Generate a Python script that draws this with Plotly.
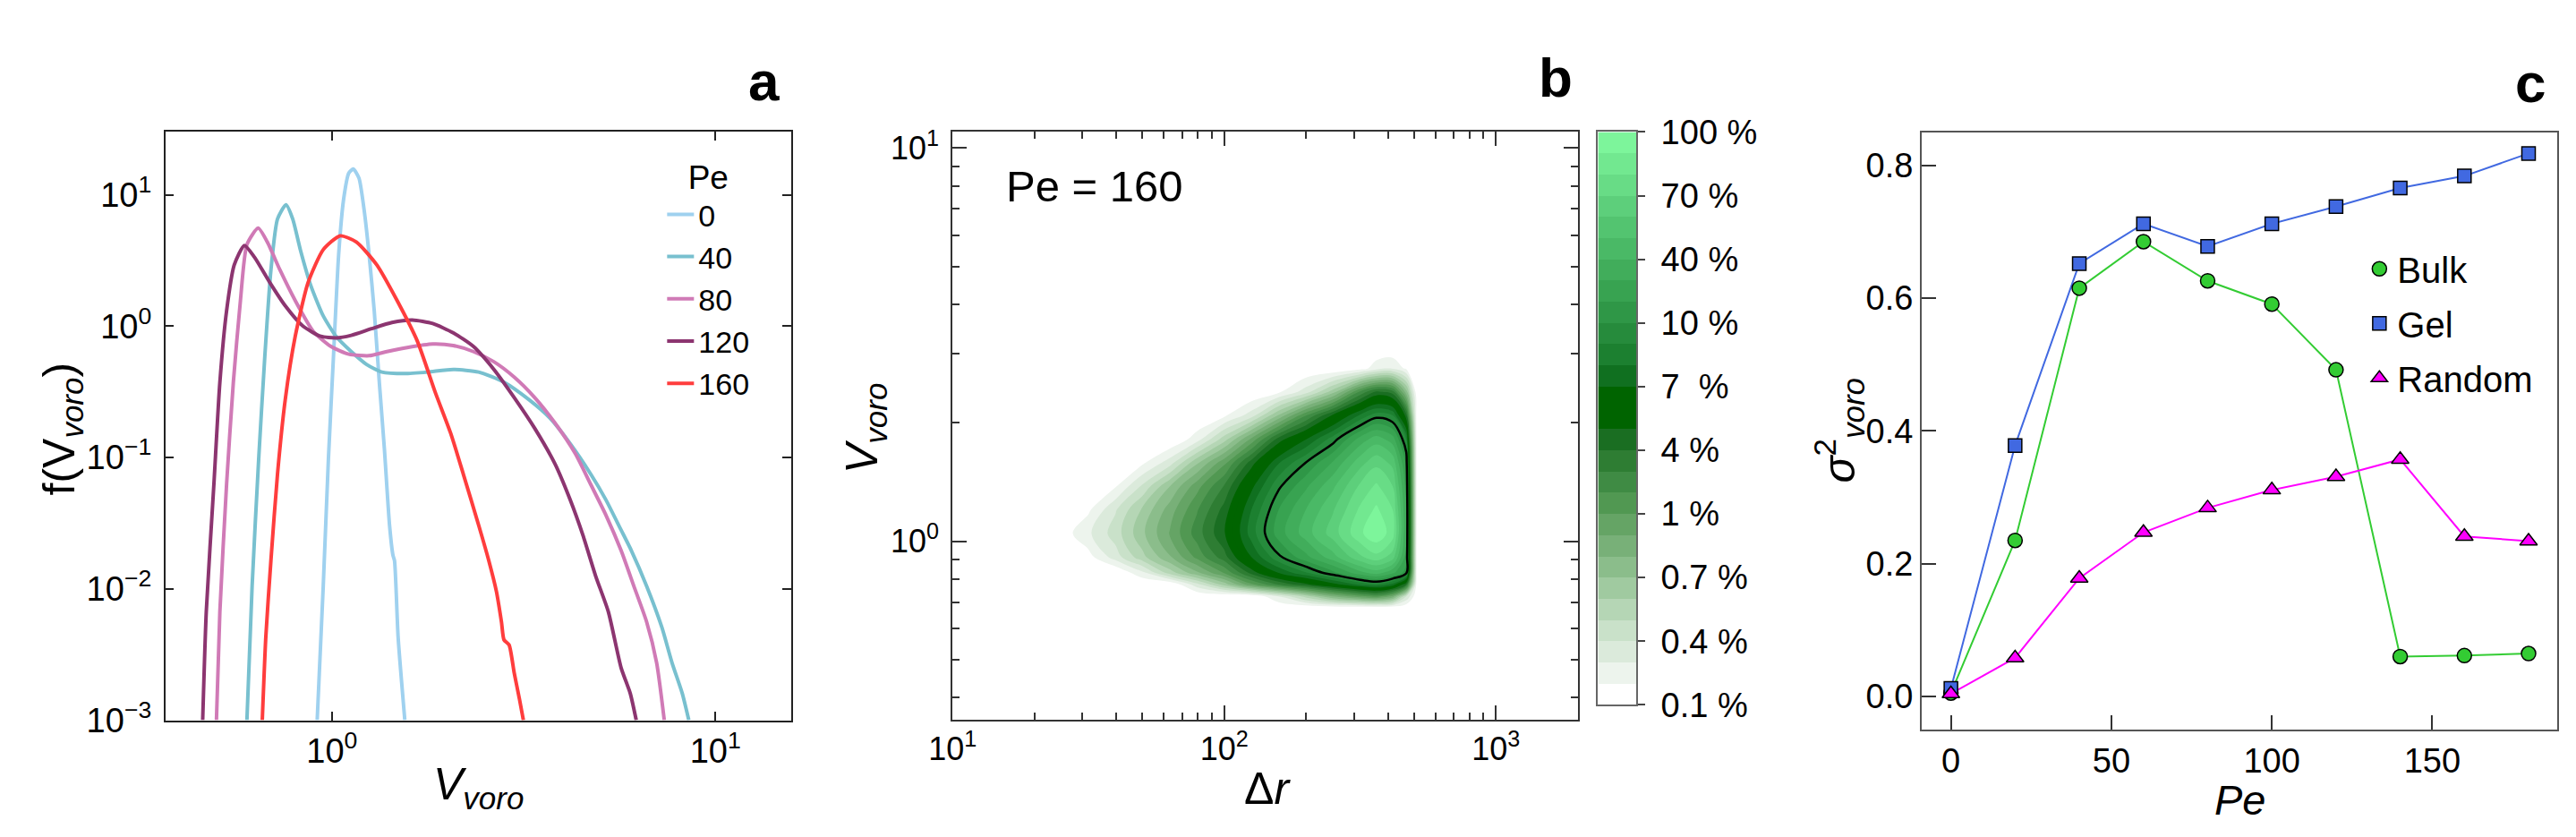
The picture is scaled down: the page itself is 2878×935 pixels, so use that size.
import plotly.graph_objects as go

W, H = 2878, 935
FONT = "Liberation Sans, Arial, sans-serif"

# ---- panel a: f(V_voro) for several Pe ----
pe_labels = ["0", "40", "80", "120", "160"]
pe_colors = ["#9fd1ef", "#78c0cf", "#d07ab6", "#8c3570", "#ff3d3d"]

pe0_v = [0.915, 0.949, 0.979, 1.009, 1.041, 1.073, 1.106, 1.137, 1.176, 1.212, 1.250, 1.289,
         1.329, 1.370, 1.413, 1.443, 1.456, 1.488, 1.549]
pe0_f = [0.001, 0.0105, 0.098, 0.585, 3.5, 9.35, 14.6, 15.7, 13.4, 7.82, 3.5, 1.31,
         0.374, 0.117, 0.0306, 0.0179, 0.0164, 0.00428, 0.001]

pe40_v = [0.600, 0.619, 0.644, 0.668, 0.693, 0.721, 0.759, 0.790, 0.827, 0.880, 0.949, 1.025,
          1.123, 1.231, 1.349, 1.549, 1.777, 2.071, 2.413, 2.811, 3.275, 3.70, 4.18, 4.73,
          5.18, 5.68, 6.04, 6.62, 7.25, 7.71, 8.20, 8.53]
pe40_f = [0.001, 0.0105, 0.098, 0.585, 2.67, 6.54, 8.4, 6.54, 3.82, 2.05, 1.196, 0.836,
          0.64, 0.511, 0.447, 0.435, 0.447, 0.468, 0.447, 0.374, 0.2735, 0.2, 0.128, 0.0748,
          0.0478, 0.028, 0.01955, 0.0105, 0.00512, 0.00274, 0.0016, 0.001]

pe80_v = [0.4996, 0.510, 0.531, 0.553, 0.577, 0.600, 0.642, 0.678, 0.732, 0.802, 0.893, 0.994,
          1.106, 1.250, 1.391, 1.572, 1.832, 2.071, 2.339, 2.645, 2.988, 3.379, 3.817, 4.314,
          4.73, 5.18, 5.68, 6.13, 6.62, 7.03, 7.36]
pe80_f = [0.001, 0.00669, 0.0625, 0.374, 1.564, 4.18, 5.57, 4.37, 2.67, 1.564, 0.915, 0.70,
          0.6115, 0.5953, 0.64, 0.687, 0.731, 0.712, 0.64, 0.535, 0.409, 0.286, 0.183, 0.107,
          0.0625, 0.0366, 0.01955, 0.0105, 0.0056, 0.00274, 0.001]

pe120_v = [0.460, 0.470, 0.492, 0.510, 0.531, 0.556, 0.591, 0.628, 0.689, 0.755, 0.840, 0.935,
           1.025, 1.123, 1.269, 1.434, 1.621, 1.832, 2.071, 2.339, 2.645, 2.988, 3.379, 3.817,
           4.18, 4.515, 4.875, 5.26, 5.68, 6.0, 6.22]
pe120_f = [0.001, 0.00669, 0.0625, 0.374, 1.308, 2.925, 4.11, 3.345, 2.138, 1.43, 1.0, 0.836,
           0.814, 0.851, 0.956, 1.065, 1.113, 1.046, 0.89, 0.70, 0.468, 0.286, 0.167, 0.0894,
           0.0478, 0.0256, 0.0125, 0.00669, 0.0025, 0.0016, 0.001]

pe160_v = [0.658, 0.672, 0.693, 0.721, 0.755, 0.802, 0.866, 0.949, 1.050, 1.158, 1.309, 1.479,
           1.671, 1.860, 2.040, 2.201, 2.413, 2.565, 2.685, 2.768, 2.81, 2.898, 2.988, 3.082, 3.158]
pe160_f = [0.001, 0.00428, 0.0164, 0.0748, 0.2735, 0.836, 2.138, 3.82, 4.87, 4.37, 2.925, 1.564,
           0.765, 0.313, 0.153, 0.0748, 0.0306, 0.0164, 0.00957, 0.0056, 0.00409, 0.00374,
           0.00229, 0.00146, 0.001]

# ---- panel b: joint distribution (level index) ----
dr_vals = [25.1, 31.6, 39.8, 50.1, 63.1, 79.4, 100, 125.9, 158.5, 199.5, 251.2, 316.2,
           363.1, 416.9, 467.7, 512.9, 631.0]
vv_vals = [0.603, 0.676, 0.724, 0.776, 0.832, 0.912, 1.047, 1.202, 1.380, 1.585, 1.820,
           2.089, 2.399, 2.754, 3.162]
level_grid = [
    [0, 0, 0, 0, 0, 0, 0, 0, 0, 0, 0, 0, 0, 0, 0, 0, 0],
    [0, 0, 0, 0, 0, 0, 0, 0, 0, 0, 0, 0, 0, 0, 0, 0, 0],
    [0, 0, 0, 0, 0, 0, 0, 0, 2.0, 4.4, 7.1, 8.7, 9.4, 7.7, 3.0, 0, 0],
    [0, 0, 0, 0, 0, 2.6, 5.4, 8.7, 11.0, 12.7, 14.5, 16.2, 16.9, 15.7, 12.0, 0, 0],
    [0, 0, 0, 1.8, 4.5, 6.8, 9.1, 12.4, 15.1, 16.9, 18.7, 20.7, 21.5, 20.3, 18.5, 0, 0],
    [0, 0.6, 2.5, 4.7, 6.9, 9.3, 11.6, 15.0, 17.8, 19.7, 21.6, 23.8, 24.7, 23.5, 19.5, 0, 0],
    [0.4, 1.8, 3.5, 5.8, 8.1, 10.5, 12.9, 16.5, 19.5, 21.5, 23.5, 25.8, 26.8, 25.5, 20.0, 0, 0],
    [0, 0.8, 2.9, 5.2, 7.5, 9.9, 12.4, 16.0, 19.0, 21.0, 22.9, 25.2, 26.2, 25.0, 20.0, 0, 0],
    [0, 0, 0.9, 3.2, 6.0, 8.6, 11.1, 14.7, 17.8, 19.8, 21.8, 24.2, 25.2, 24.0, 19.6, 0, 0],
    [0, 0, 0, 0.8, 2.5, 5.8, 8.7, 12.5, 15.9, 18.0, 20.1, 22.6, 23.7, 22.7, 18.8, 0, 0],
    [0, 0, 0, 0, 0, 1.5, 4.5, 8.2, 12.4, 14.9, 17.5, 20.4, 21.5, 20.5, 17.0, 0, 0],
    [0, 0, 0, 0, 0, 0, 0.8, 2.5, 6.1, 9.9, 13.2, 16.2, 17.6, 17.0, 12.5, 0, 0],
    [0, 0, 0, 0, 0, 0, 0, 0, 0.8, 2.5, 5.5, 10.2, 12.2, 11.5, 6.5, 0, 0],
    [0, 0, 0, 0, 0, 0, 0, 0, 0, 0, 0, 0.5, 1.5, 1.8, 0.8, 0, 0],
    [0, 0, 0, 0, 0, 0, 0, 0, 0, 0, 0, 0, 0, 0, 0, 0, 0],
]
band_colors = ["#ffffff", "#edf4ed", "#dbeadb", "#c9e1c9", "#b5d6b5", "#a0caa0", "#8bbd8b",
               "#78b078", "#65a465", "#519852", "#3f8b44", "#2e7d33", "#1a6e22", "#006400",
               "#006400", "#107020", "#1c8030", "#268b3c", "#2f9747", "#38a351", "#41ad5b",
               "#4ab966", "#53c470", "#5dcf7b", "#68dc86", "#72e890", "#7df59b"]
cbar_labels = ["0.1 %", "0.4 %", "0.7 %", "1 %", "4 %", "7\u00a0 %", "10 %", "40 %", "70 %", "100 %"]
black_level = 18

# ---- panel c: variance vs Pe ----
pe_c = [0, 20, 40, 60, 80, 100, 120, 140, 160, 180]
bulk = [0.005, 0.235, 0.615, 0.685, 0.626, 0.591, 0.492, 0.060, 0.0615, 0.0646]
gel = [0.012, 0.378, 0.652, 0.712, 0.678, 0.712, 0.738, 0.766, 0.784, 0.818]
rand = [0.004, 0.058, 0.178, 0.247, 0.284, 0.311, 0.331, 0.357, 0.241, 0.234]


def px(x):
    return x / W


def py(y):
    return 1 - y / H


fig = go.Figure()

# panel a curves
for lab, col, v, f in zip(pe_labels, pe_colors,
                          [pe0_v, pe40_v, pe80_v, pe120_v, pe160_v],
                          [pe0_f, pe40_f, pe80_f, pe120_f, pe160_f]):
    fig.add_trace(go.Scatter(x=v, y=f, mode="lines", name=lab, legend="legend",
                             line=dict(color=col, width=4, shape="spline", smoothing=0.6),
                             xaxis="x", yaxis="y"))

# panel b contour
cscale = [[k / (len(band_colors) - 1), c] for k, c in enumerate(band_colors)]
fig.add_trace(go.Contour(x=dr_vals, y=vv_vals, z=level_grid, xaxis="x2", yaxis="y2",
                         colorscale=cscale, showscale=False, showlegend=False,
                         line=dict(width=0),
                         contours=dict(start=1, end=26, size=1, coloring="fill"),
                         hoverinfo="skip"))
fig.add_trace(go.Contour(x=dr_vals, y=vv_vals, z=level_grid, xaxis="x2", yaxis="y2",
                         showscale=False, showlegend=False,
                         line=dict(color="black", width=2.5),
                         contours=dict(start=black_level, end=black_level, size=1, coloring="none"),
                         hoverinfo="skip"))

# colour bar drawn as a one-column heatmap
fig.add_trace(go.Heatmap(z=[[k] for k in range(len(band_colors))], x=[0],
                         y=list(range(len(band_colors))), colorscale=cscale, zmin=0,
                         zmax=len(band_colors) - 1, showscale=False, showlegend=False,
                         xaxis="x4", yaxis="y4", hoverinfo="skip"))

# panel c
series = [("Bulk", bulk, "#33cc33", "circle", 16),
          ("Gel", gel, "#4169e1", "square", 15),
          ("Random", rand, "#ff00ff", "triangle-up", 17)]
for name, vals, col, sym, size in series:
    fig.add_trace(go.Scatter(x=pe_c, y=vals, mode="lines", line=dict(color=col, width=2),
                             showlegend=False, xaxis="x3", yaxis="y3"))
for name, vals, col, sym, size in series:
    fig.add_trace(go.Scatter(x=pe_c, y=vals, mode="markers", name=name, legend="legend2",
                             legendgroup=name,
                             marker=dict(color=col, symbol=sym, size=size,
                                         line=dict(color="black", width=1.5)),
                             xaxis="x3", yaxis="y3"))

tick_font = dict(family=FONT, size=38, color="black")

# axes
fig.update_layout(
    xaxis=dict(domain=[px(151), px(857)], anchor="y", type="log", range=[-0.435, 1.198],
               tickvals=[1, 10], ticktext=["10<sup>0</sup>", "10<sup>1</sup>"],
               showline=True, mirror="ticks", linecolor="#222", linewidth=1.5,
               ticks="inside", ticklen=10, tickwidth=1.5, tickcolor="#222",
               showgrid=False, zeroline=False, tickfont=tick_font),
    yaxis=dict(domain=[py(812), py(124)], anchor="x", type="log", range=[-3, 1.478],
               tickvals=[0.001, 0.01, 0.1, 1, 10],
               ticktext=["10<sup>\u22123</sup>", "10<sup>\u22122</sup>", "10<sup>\u22121</sup>",
                         "10<sup>0</sup>", "10<sup>1</sup>"],
               showline=True, mirror="ticks", linecolor="#222", linewidth=1.5,
               ticks="inside", ticklen=10, tickwidth=1.5, tickcolor="#222",
               showgrid=False, zeroline=False, tickfont=tick_font, ticklabelstandoff=6),
    xaxis2=dict(domain=[px(1039), px(1744)], anchor="y2", type="log", range=[1, 3.301],
                tickvals=[10, 100, 1000],
                ticktext=["10<sup>1</sup>", "10<sup>2</sup>", "10<sup>3</sup>"],
                minor=dict(ticks="inside", ticklen=8, tickwidth=1.5, tickcolor="#333",
                           tickvals=[m * d for d in (10, 100) for m in range(2, 10)] + [2000]),
                showline=True, mirror="allticks", linecolor="#333", linewidth=2,
                ticks="inside", ticklen=16, tickwidth=1.5, tickcolor="#333",
                showgrid=False, zeroline=False, tickfont=dict(family=FONT, size=36, color="black")),
    yaxis2=dict(domain=[py(811), py(124)], anchor="x2", type="log", range=[-0.453, 1.041],
                tickvals=[1, 10], ticktext=["10<sup>0</sup>", "10<sup>1</sup>"],
                minor=dict(ticks="inside", ticklen=8, tickwidth=1.5, tickcolor="#333",
                           tickvals=[m / 10 for m in range(4, 10)] + list(range(2, 10))),
                showline=True, mirror="allticks", linecolor="#333", linewidth=2,
                ticks="inside", ticklen=16, tickwidth=1.5, tickcolor="#333",
                showgrid=False, zeroline=False, tickfont=dict(family=FONT, size=36, color="black"),
                ticklabelstandoff=6),
    xaxis3=dict(domain=[px(2132), px(2849)], anchor="y3", range=[-9.1, 189],
                tickvals=[0, 50, 100, 150], showline=True, mirror=True, linecolor="#555",
                linewidth=2, ticks="inside", ticklen=16, tickwidth=1.5, tickcolor="#333",
                showgrid=False, zeroline=False, tickfont=tick_font),
    yaxis3=dict(domain=[py(823), py(125)], anchor="x3", range=[-0.05, 0.849],
                tickvals=[0, 0.2, 0.4, 0.6, 0.8], tickformat=".1f", showline=True, mirror=True,
                linecolor="#555", linewidth=2, ticks="inside", ticklen=16, tickwidth=1.5,
                tickcolor="#333", showgrid=False, zeroline=False, tickfont=tick_font),
    xaxis4=dict(domain=[px(1767), px(1810)], anchor="y4", range=[-0.5, 0.5], showline=True,
                mirror=True, linecolor="#666", linewidth=2, showticklabels=False, ticks="",
                showgrid=False, zeroline=False),
    yaxis4=dict(domain=[py(794), py(124)], anchor="x4", side="right",
                range=[-0.5, len(band_colors) - 0.5],
                tickvals=[3 * k - 0.5 for k in range(len(cbar_labels))], ticktext=cbar_labels,
                showline=True, mirror=True, linecolor="#666", linewidth=2, ticks="outside",
                ticklen=8, tickwidth=2, tickcolor="#444", showgrid=False, zeroline=False,
                tickfont=dict(family=FONT, size=38, color="black"), ticklabelstandoff=10),
)

fig.update_layout(
    width=W, height=H, autosize=False,
    margin=dict(l=0, r=0, t=0, b=0),
    paper_bgcolor="white", plot_bgcolor="white",
    font=dict(family=FONT, color="black"),
    legend=dict(x=px(712), y=py(140), xanchor="left", yanchor="top",
                bgcolor="rgba(0,0,0,0)", font=dict(family=FONT, size=34),
                title=dict(text="Pe", side="top center", font=dict(family=FONT, size=37)),
                tracegroupgap=2),
    legend2=dict(x=px(2628), y=py(250), xanchor="left", yanchor="top",
                 bgcolor="rgba(0,0,0,0)", font=dict(family=FONT, size=40), tracegroupgap=6),
)

ann = [
    dict(text="<b>a</b>", x=px(826), y=py(64), size=62),
    dict(text="<b>b</b>", x=px(1719), y=py(60), size=62),
    dict(text="<b>c</b>", x=px(2818), y=py(66), size=62),
    dict(text="<i>V</i><sub><i>voro</i></sub>", x=px(504), y=py(890), size=50),
    dict(text="f(V<sub><i>voro</i></sub>)", x=px(35), y=py(471), size=50, angle=-90),
    dict(text="\u0394<i>r</i>", x=px(1394), y=py(892), size=50),
    dict(text="<i>V</i><sub><i>voro</i></sub>", x=px(941), y=py(471), size=50, angle=-90),
    dict(text="<i>Pe</i>", x=px(2491), y=py(905), size=47),
    dict(text="<i>\u03c3</i><sup>2</sup><sub><i>voro</i></sub>", x=px(2039), y=py(473), size=50,
         angle=-90),
]
for a in ann:
    fig.add_annotation(text=a["text"], x=a["x"], y=a["y"], xref="paper", yref="paper",
                       showarrow=False, xanchor="center", yanchor="middle",
                       textangle=a.get("angle", 0),
                       font=dict(family=FONT, size=a["size"], color="black"))
fig.add_annotation(text="Pe = 160", x=px(1097), y=py(187), xref="paper", yref="paper",
                   showarrow=False, xanchor="left", yanchor="middle",
                   font=dict(family=FONT, size=49, color="black"))

fig.write_html("out.html")
